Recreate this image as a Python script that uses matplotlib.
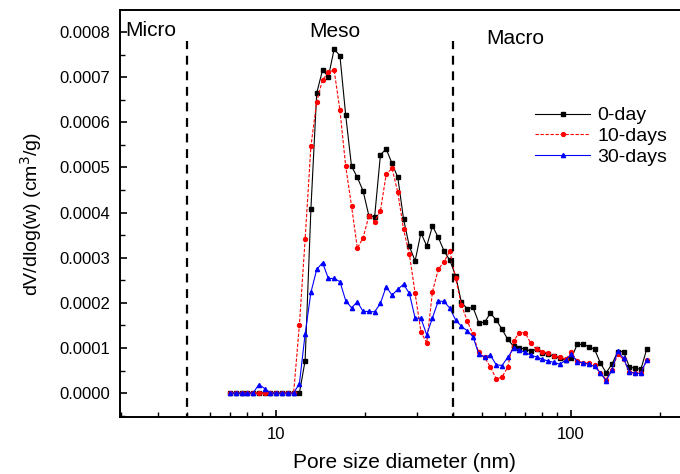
import numpy as np
import matplotlib
matplotlib.use("Agg")
import matplotlib.pyplot as plt
from matplotlib.ticker import MultipleLocator, NullFormatter, ScalarFormatter, FormatStrFormatter

plt.rcParams['font.family'] = ['Liberation Sans', 'DejaVu Sans']

# pore diameters (nm)
diam = [7.00, 7.32, 7.66, 8.01, 8.38, 8.77, 9.18, 9.60, 10.04, 10.50,
        10.99, 11.50, 12.03, 12.58, 13.16, 13.77, 14.41, 15.08, 15.77, 16.50,
        17.26, 18.06, 18.90, 19.77, 20.68, 21.63, 22.63, 23.67, 24.77, 25.91,
        27.10, 28.36, 29.66, 31.03, 32.47, 33.96, 35.53, 37.17, 38.89, 40.68,
        42.56, 44.53, 46.58, 48.73, 50.98, 53.33, 55.80, 58.37, 61.07, 63.89,
        66.83, 69.92, 73.15, 76.53, 80.06, 83.75, 87.62, 91.67, 95.90, 100.3,
        105.0, 109.8, 114.9, 120.2, 125.7, 131.5, 137.6, 144.0, 150.6, 157.6,
        164.8, 172.5, 180.4]

# dV/dlog(w) in units of 1e-4 cm3/g
day0 = [0, 0, 0, 0, 0, 0, 0, 0, 0, 0,
        0, 0, 0, 0.72, 4.08, 6.65, 7.16, 7.01, 7.62, 7.48,
        6.16, 5.03, 4.78, 4.48, 3.93, 3.91, 5.28, 5.41, 5.09, 4.78,
        3.86, 3.25, 2.93, 3.55, 3.26, 3.70, 3.45, 3.15, 2.94, 2.60,
        2.01, 1.87, 1.90, 1.56, 1.57, 1.77, 1.62, 1.42, 1.19, 1.04,
        1.00, 0.98, 0.93, 0.97, 0.89, 0.86, 0.82, 0.77, 0.73, 0.78,
        1.08, 1.08, 1.03, 0.97, 0.67, 0.45, 0.64, 0.92, 0.92, 0.58,
        0.55, 0.53, 0.97]
day10 = [0, 0, 0, 0, 0, 0, 0, 0, 0, 0,
         0, 0, 1.51, 3.41, 5.47, 6.46, 6.94, 7.11, 7.16, 6.27,
         5.03, 4.15, 3.21, 3.44, 3.93, 3.80, 4.04, 4.85, 4.98, 4.45,
         3.63, 3.08, 2.21, 1.36, 1.11, 2.25, 2.74, 2.91, 3.15, 2.54,
         1.95, 1.60, 1.30, 0.90, 0.79, 0.58, 0.32, 0.35, 0.58, 1.15,
         1.34, 1.34, 1.10, 0.97, 0.92, 0.88, 0.83, 0.79, 0.75, 0.90,
         0.71, 0.67, 0.66, 0.62, 0.45, 0.30, 0.52, 0.86, 0.75, 0.47,
         0.44, 0.44, 0.73]
day30 = [0, 0, 0, 0, 0, 0.19, 0.10, 0, 0, 0,
         0, 0, 0.21, 1.31, 2.23, 2.74, 2.89, 2.54, 2.54, 2.47,
         2.05, 1.89, 2.02, 1.81, 1.81, 1.80, 1.99, 2.36, 2.17, 2.30,
         2.41, 2.21, 1.66, 1.66, 1.29, 1.67, 2.04, 2.03, 1.88, 1.62,
         1.48, 1.38, 1.25, 0.86, 0.80, 0.84, 0.63, 0.61, 0.79, 0.99,
         0.96, 0.90, 0.84, 0.80, 0.75, 0.71, 0.68, 0.64, 0.73, 0.86,
         0.70, 0.67, 0.64, 0.59, 0.45, 0.27, 0.51, 0.93, 0.77, 0.47,
         0.44, 0.44, 0.74]

bounds = [5, 40]  # micro/meso and meso/macro limits (nm)

scale = 1e-4
x = np.array(diam)

fig = plt.figure(figsize=(6.8, 4.74), dpi=100)
ax = fig.add_axes([120 / 680, 57 / 474, 568.5 / 680, 407 / 474])

ax.plot(x, np.array(day0) * scale, color='black', lw=0.8, marker='s', ms=2.5,
        label='0-day')
ax.plot(x, np.array(day10) * scale, color='red', lw=0.8, ls=(0, (3, 1.5)),
        marker='o', ms=2.8, label='10-days')
ax.plot(x, np.array(day30) * scale, color='blue', lw=0.8, marker='^', ms=3,
        label='30-days')

for b in bounds:
    ax.vlines(b, -0.0001, 0.00078, colors='black', linestyles=(0, (4, 3)), lw=1.6)

ax.text(3.1, 0.000803, 'Micro', fontsize=15, va='center', ha='left')
ax.text(15.9, 0.000801, 'Meso', fontsize=15, va='center', ha='center')
ax.text(51.5, 0.000786, 'Macro', fontsize=15, va='center', ha='left')

ax.set_xscale('log')
ax.set_xlim(2.97, 250)
ax.set_ylim(-0.000053, 0.000849)
ax.xaxis.set_major_formatter(ScalarFormatter())
ax.xaxis.set_minor_formatter(NullFormatter())
ax.yaxis.set_major_locator(MultipleLocator(0.0001))
ax.yaxis.set_minor_locator(MultipleLocator(0.00005))
ax.yaxis.set_major_formatter(FormatStrFormatter('%.4f'))

ax.tick_params(which='both', direction='in', labelsize=12)
ax.tick_params(which='major', length=5, width=1.2, pad=7)
ax.tick_params(which='minor', length=3.5, width=1.0)
for s in ax.spines.values():
    s.set_linewidth(1.4)

ax.set_xlabel('Pore size diameter (nm)', fontsize=15, labelpad=8)
ax.set_ylabel('dV/dlog(w) (cm$^3$/g)', fontsize=14, labelpad=11)

ax.legend(loc='upper left', bbox_to_anchor=(0.70, 0.805), frameon=False,
          fontsize=14, handlelength=2.8, handletextpad=0.4, labelspacing=0.15)

fig.savefig('out.png', dpi=100)
